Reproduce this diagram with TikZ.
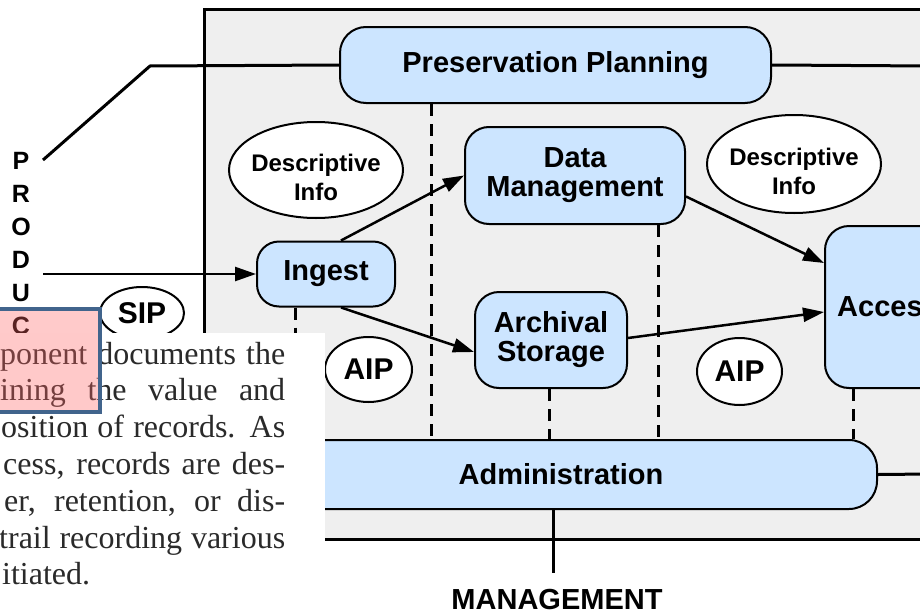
\documentclass[tikz,border=0pt]{standalone}
\usepackage{fontspec}
\setmainfont{Liberation Serif}
\setsansfont{Liberation Sans}
\usetikzlibrary{arrows.meta,shapes.geometric}
\definecolor{bgray}{HTML}{EFEFEF}
\definecolor{nblue}{HTML}{CCE5FF}
\definecolor{hlborder}{HTML}{41648C}
\definecolor{txtgray}{HTML}{2A2A2A}
\begin{document}
\begin{tikzpicture}[x=1pt,y=-1pt,
  proc/.style={draw=black, line width=2pt, fill=nblue, rounded corners=24pt, align=center,
    font=\sffamily\bfseries\fontsize{29}{29}\selectfont, inner sep=0pt},
  info/.style={draw=black, line width=2pt, fill=white, ellipse, inner sep=0pt,
    font=\sffamily\bfseries\fontsize{30}{30}\selectfont},
  infotext/.style={font=\sffamily\bfseries\fontsize{24}{29}\selectfont, align=center, inner sep=0pt, yshift=-7.5pt},
  flow/.style={line width=2.5pt, -{Triangle[length=21pt,width=14pt]}},
  link/.style={line width=3pt},
  ctl/.style={line width=3pt, dash pattern=on 12pt off 8pt},
  para/.style={anchor=base west, font=\fontsize{32}{36.8}\selectfont, text=txtgray, inner sep=0pt}
]
\useasboundingbox (0,0) rectangle (920,613);
\clip (0,0) rectangle (920,613);

% archive boundary
\node[draw=black, line width=3pt, fill=bgray, minimum width=757pt, minimum height=530pt,
  inner sep=0pt, anchor=north west] (archive) at (203,8) {};

% helper coordinates
\coordinate (pbend) at (150,66);
\coordinate (ptop) at (43,160);
\coordinate (ppout) at (930,66);
\coordinate (prod) at (43,274);
\coordinate (admout) at (930,474);
\coordinate (mgmt) at (553,573);
\coordinate (xa) at (431,0);
\coordinate (xb) at (658,0);
\coordinate (xc) at (549,0);
\coordinate (xd) at (853,0);
\coordinate (xe) at (295,0);

% functional entities
\node[proc, minimum width=431pt, minimum height=76pt, rounded corners=26pt] (pp) at (555.5,65) {Preservation Planning};
\node[proc, minimum width=220pt, minimum height=97pt] (dm) at (575,175.5) {Data\\Management};
\node[proc, minimum width=152pt, minimum height=96pt] (as) at (551,340) {Archival\\Storage};
\node[proc, minimum width=138pt, minimum height=65pt, rounded corners=22pt] (ing) at (326,274) {Ingest};
\node[proc, minimum width=126pt, minimum height=162pt] (acc) at (888,307) {Access};
\node[proc, minimum width=632pt, minimum height=69pt, rounded corners=28pt] (adm) at (561,474.5) {Administration};

% dashed control lines
\draw[ctl] (pp.south -| xa) -- (adm.north -| xa);
\draw[ctl] (dm.south -| xb) -- (adm.north -| xb);
\draw[ctl] (as.south -| xc) -- (adm.north -| xc);
\draw[ctl] (acc.south -| xd) -- (adm.north -| xd);
\draw[ctl] (ing.south -| xe) -- (adm.north -| xe);

% information packages
\node[info, minimum width=174pt, minimum height=96pt, label={[infotext]center:Descriptive\\Info}] (d1) at (316,170) {};
\node[info, minimum width=174pt, minimum height=98pt, label={[infotext]center:Descriptive\\Info}] (d2) at (794,164) {};
\node[info, minimum width=84pt, minimum height=52pt] (sip) at (142,313) {SIP};
\node[info, minimum width=87pt, minimum height=65pt] (aip1) at (368.5,369.5) {AIP};
\node[info, minimum width=85pt, minimum height=67pt] (aip2) at (739.5,371.5) {AIP};

% external links
\draw[link] (pp.west) -- (pbend) -- (ptop);
\draw[link] (pp.east) -- (ppout);
\draw[link] (adm.east) -- (admout);
\draw[link] (adm.south -| mgmt) -- (mgmt);

% flows
\draw[flow] (prod) -- (ing.west);
\draw[flow] ([xshift=15pt]ing.north) -- (dm.west);
\draw[flow] ([xshift=15pt]ing.south) -- ([yshift=-12pt]as.west);
\draw[flow] ([yshift=-21pt]dm.east) -- ([yshift=44pt]acc.west);
\draw[flow] ([yshift=2pt]as.east) -- ([yshift=-5pt]acc.west);

% outside labels
\node[font=\sffamily\bfseries\fontsize{29}{29}\selectfont, inner sep=0pt] (mg) at (557,600) {MANAGEMENT};
\node[font=\sffamily\bfseries\fontsize{25}{33}\selectfont, align=center, anchor=north, inner sep=0pt] (producer) at (21,152) {P\\R\\O\\D\\U\\C\\E\\R};

% overlaid text page
\node[fill=white, inner sep=0pt, minimum width=325pt, minimum height=290pt, anchor=north west] (page) at (0,333) {};
\node[para] (l1) at (0,364) {\makebox[285pt][s]{ponent documents the}};
\node[para] (l2) at (0,400.8) {\makebox[285pt][s]{ining the value and}};
\node[para] (l3) at (1,437.6) {\makebox[284pt][s]{osition of records. As}};
\node[para] (l4) at (3,474.4) {\makebox[282pt][s]{cess, records are des-}};
\node[para] (l5) at (4,511.2) {\makebox[281pt][s]{er, retention, or dis-}};
\node[para] (l6) at (-1,548) {\makebox[286pt][s]{trail recording various}};
\node[para] (l7) at (2,584.8) {itiated.};

% highlight box
\node[fill=red!60, fill opacity=0.35, draw=hlborder, draw opacity=1, line width=3.5pt,
  minimum width=110pt, minimum height=103pt, anchor=north west, inner sep=0pt] (hl) at (-12,307) {};
\end{tikzpicture}
\end{document}
